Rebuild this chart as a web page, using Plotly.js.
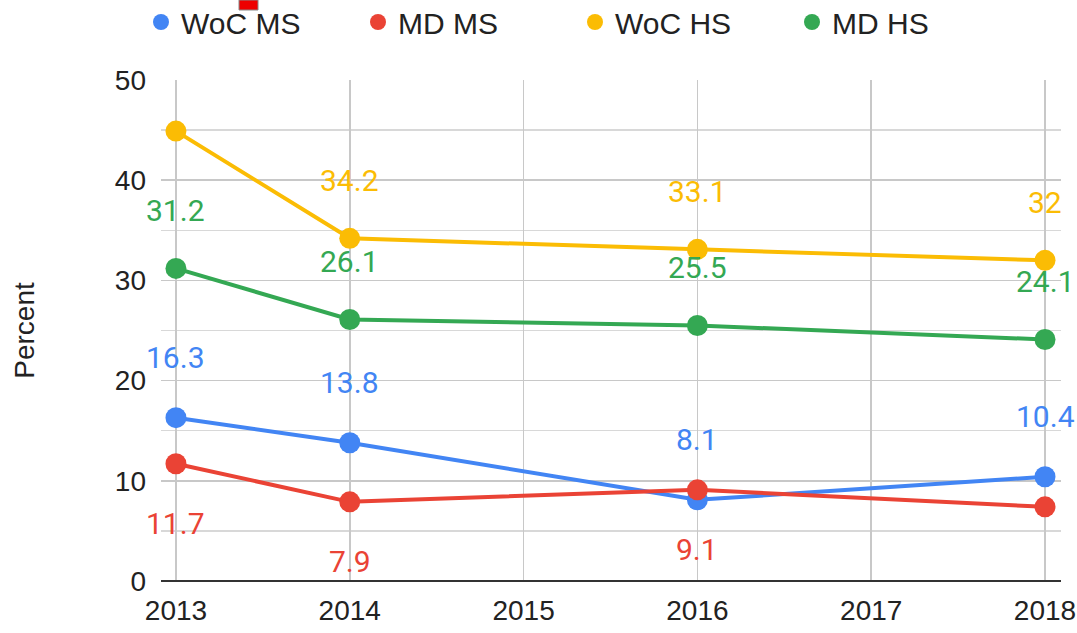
<!DOCTYPE html>
<html>
<head>
<meta charset="utf-8">
<script src="https://cdn.plot.ly/plotly-3.0.1.min.js"></script>
<style>html,body{margin:0;padding:0;background:#fff}#chart{width:1077px;height:633px}</style>
</head>
<body>
<div id="chart"></div>
<script>
const years = [2013, 2014, 2016, 2018];
const seriesNames = ['WoC MS', 'MD MS', 'WoC HS', 'MD HS'];
const wocMS = [16.3, 13.8, 8.1, 10.4];
const mdMS = [11.7, 7.9, 9.1, 7.4];
const wocHS = [44.9, 34.2, 33.1, 32.0];
const mdHS = [31.2, 26.1, 25.5, 24.1];
// which data labels are shown in the reference
const wocMSShow = [true, true, true, true];
const mdMSShow = [true, true, true, false];
const wocHSShow = [false, true, true, true];
const mdHSShow = [true, true, true, true];
const xTicks = [2013, 2014, 2015, 2016, 2017, 2018];
const yTicks = [0, 10, 20, 30, 40, 50];

const colors = ['#4285F4', '#EA4335', '#FBBC04', '#34A853'];
const values = [wocMS, mdMS, wocHS, mdHS];
const shows = [wocMSShow, mdMSShow, wocHSShow, mdHSShow];
const labelShift = [60, -60, 58, 58];
const labelFont = 'Roboto, Arial, sans-serif';

const traces = [];
values.forEach((v, i) => {
  traces.push({
    x: years, y: v, type: 'scatter', mode: 'lines+markers',
    name: seriesNames[i], showlegend: false,
    line: {color: colors[i], width: 4},
    marker: {color: colors[i], size: 21},
    hoverinfo: 'x+y'
  });
});
values.forEach((v, i) => {
  traces.push({
    x: [null], y: [null], type: 'scatter', mode: 'markers',
    name: seriesNames[i], showlegend: true,
    marker: {color: colors[i], size: 16}
  });
});

const annotations = [];
values.forEach((v, i) => {
  v.forEach((val, j) => {
    if (!shows[i][j]) return;
    annotations.push({
      x: years[j], y: val, xref: 'x', yref: 'y',
      text: String(val % 1 === 0 ? val.toFixed(0) : val),
      showarrow: false, yshift: labelShift[i],
      font: {family: labelFont, size: 30, color: colors[i]}
    });
  });
});

const layout = {
  width: 1077, height: 633,
  margin: {l: 161, r: 16, t: 80, b: 52},
  paper_bgcolor: '#fff', plot_bgcolor: '#fff',
  font: {family: 'Liberation Sans, Arial, sans-serif', color: '#222'},
  showlegend: true,
  legend: {
    orientation: 'h', x: 141 / 1077, xref: 'container', y: 1 - 22 / 633, yref: 'container',
    xanchor: 'left', yanchor: 'middle',
    font: {size: 30, color: '#222'}, entrywidth: 172, entrywidthmode: 'pixels',
    bgcolor: 'rgba(0,0,0,0)'
  },
  xaxis: {
    range: [2012.914, 2018.092], tickvals: xTicks, ticktext: xTicks.map(String),
    showgrid: true, gridcolor: '#c8c8c8', gridwidth: 1.5,
    showline: false, zeroline: false, ticks: '', ticklabeloverflow: 'allow',
    tickfont: {size: 28, color: '#222'}, ticklabelstandoff: 10
  },
  yaxis: {
    range: [0, 50], tickvals: yTicks, ticktext: yTicks.map(String),
    showgrid: true, gridcolor: '#c8c8c8', gridwidth: 1.5,
    minor: {dtick: 5, showgrid: true, gridcolor: '#d8d8d8', gridwidth: 1.5},
    zeroline: true, zerolinecolor: '#333333', zerolinewidth: 2.5,
    ticks: '', tickfont: {size: 28, color: '#222'}, ticklabelstandoff: 14,
    title: {text: 'Percent', font: {size: 28, color: '#222'}, standoff: 72}
  },
  annotations: annotations,
  shapes: [{
    type: 'rect', xref: 'paper', yref: 'paper',
    x0: (239 - 161) / 900, x1: (258 - 161) / 900,
    y0: 1 + (80 - 10) / 501, y1: 1 + 80 / 501,
    fillcolor: '#ee0000', line: {color: '#888', width: 1}
  }]
};

Plotly.newPlot('chart', traces, layout, {displayModeBar: false, staticPlot: true});
</script>
</body>
</html>
